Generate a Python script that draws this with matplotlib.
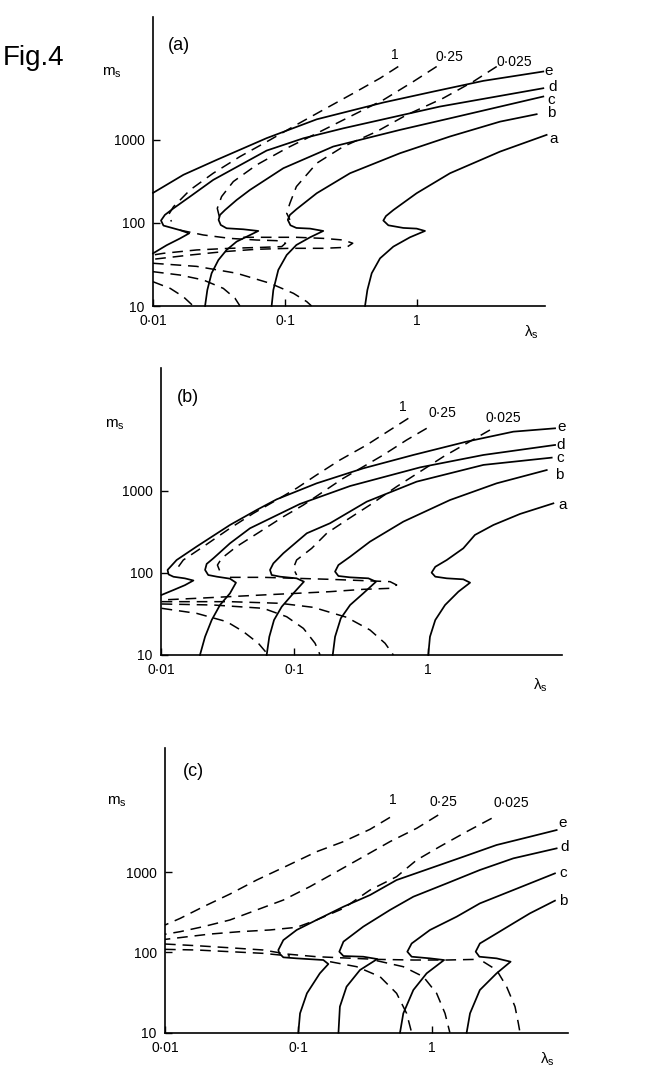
import matplotlib.pyplot as plt

plt.rcParams['font.family'] = ['Liberation Sans', 'DejaVu Sans']
plt.rcParams['mathtext.default'] = 'regular'

W, H = 671, 1083

# ---------------- panel (a) : solid curves a..e ----------------
a_e_lam = [0.010, 0.0170, 0.0303, 0.0726, 0.174, 0.556, 1.33, 3.18, 9.06]
a_e_m = [230, 380, 574, 1050, 1770, 2820, 3820, 5140, 6660]
a_d_lam = [0.010, 0.0127, 0.0160, 0.0188, 0.0160, 0.0120, 0.0115, 0.0123, 0.0143, 0.0191, 0.0286, 0.0726, 0.138, 0.277, 1.49, 9.06]
a_d_m = [43, 54, 65, 75, 82, 93, 107, 125, 150, 208, 330, 744, 1047, 1380, 2520, 4190]
a_c_lam = [0.0248, 0.0258, 0.0278, 0.0313, 0.0361, 0.0430, 0.0513, 0.0628, 0.0483, 0.0361, 0.0326, 0.0314, 0.0322, 0.0351, 0.0430, 0.0543, 0.0971, 0.232, 0.743, 1.78, 9.06]
a_c_m = [10, 15.6, 24.8, 35.8, 47.3, 59.6, 68.4, 80.1, 83.9, 86.3, 94.6, 109, 125, 143, 189, 250, 456, 832, 1320, 1820, 3330]
a_b_lam = [0.0792, 0.0816, 0.0890, 0.103, 0.122, 0.155, 0.195, 0.155, 0.122, 0.110, 0.105, 0.109, 0.122, 0.174, 0.311, 0.743, 1.78, 4.26, 8.07]
a_b_m = [10, 15.6, 27.2, 41.1, 54.3, 67.2, 80.1, 85.5, 87.1, 93.7, 109, 125, 146, 228, 397, 691, 1100, 1660, 2040]
a_a_lam = [0.404, 0.421, 0.454, 0.525, 0.662, 0.885, 1.15, 0.994, 0.788, 0.607, 0.556, 0.582, 0.662, 0.994, 1.78, 4.26, 9.60]
a_a_m = [10, 15.6, 24.8, 37.5, 51.9, 67.2, 80.1, 85.5, 87.1, 93.7, 107, 121, 143, 228, 397, 723, 1150]

# panel (a) : dashed curves labelled 1, 0.25, 0.025
a_k1_lam = [0.722, 0.525, 0.330, 0.195, 0.122, 0.0770, 0.0456, 0.0286, 0.0191, 0.0143, 0.0131, 0.0138]
a_k1_m = [7650, 5530, 3650, 2300, 1520, 1000, 630, 397, 250, 157, 125, 104]
a_k2_lam = [1.41, 0.938, 0.556, 0.311, 0.174, 0.103, 0.0610, 0.0406, 0.0331, 0.0307, 0.0318]
a_k2_m = [7650, 5040, 3030, 1910, 1200, 794, 500, 315, 208, 150, 119]
a_k3_lam = [4.02, 2.67, 1.58, 0.835, 0.495, 0.277, 0.174, 0.122, 0.109, 0.103, 0.109]
a_k3_m = [7650, 5040, 3180, 2000, 1260, 832, 524, 274, 173, 131, 109]
# panel (a) : lower dashed branches
a_l1_lam = [0.0160, 0.0240, 0.0383, 0.0610, 0.0865, 0.101, 0.0944, 0.0685, 0.0383, 0.0214, 0.0120, 0.010]
a_l1_m = [82, 71.7, 65.2, 62.3, 61.2, 57.0, 51.9, 50.9, 49.5, 47.3, 43.1, 41.1]
a_l2_lam = [0.0483, 0.0769, 0.122, 0.195, 0.277, 0.326, 0.293, 0.195, 0.109, 0.0610, 0.0341, 0.0191, 0.010]
a_l2_m = [67.2, 67.2, 67.2, 65.2, 62.3, 57.0, 50.9, 49.5, 49.5, 48.2, 45.1, 41.1, 36.5]
a_l3_lam = [0.010, 0.0160, 0.0240, 0.0341, 0.0418, 0.0456]
a_l3_m = [25.9, 23.6, 20.6, 16.3, 12.4, 10]
a_l4_lam = [0.010, 0.0214, 0.0430, 0.0769, 0.116, 0.146, 0.159]
a_l4_m = [32.7, 30.0, 24.8, 18.8, 14.2, 11.3, 10]
a_l5_lam = [0.010, 0.0135, 0.0170, 0.0202]
a_l5_m = [19.6, 16.3, 12.9, 10]

# ---------------- panel (b) ----------------
b_e_lam = [0.0101, 0.0124, 0.0151, 0.0175, 0.0151, 0.0124, 0.0114, 0.0112, 0.0131, 0.0185, 0.0329, 0.0522, 0.0737, 0.147, 0.329, 0.781, 1.96, 4.39, 9.02]
b_e_m = [54, 62, 71, 81, 86, 90, 96, 109, 144, 210, 385, 587, 791, 1240, 1890, 2750, 4000, 5290, 5810]
b_d_lam = [0.0196, 0.0214, 0.0240, 0.0277, 0.0329, 0.0365, 0.0329, 0.0262, 0.0226, 0.0214, 0.0220, 0.0247, 0.0329, 0.0465, 0.110, 0.262, 0.876, 2.62, 9.02]
b_d_m = [10, 16.7, 26.7, 40.7, 56.5, 76.2, 85.3, 90.2, 94.5, 109, 129, 151, 230, 351, 694, 1150, 1940, 2750, 3640]
b_c_lam = [0.0620, 0.0649, 0.0704, 0.0804, 0.0983, 0.118, 0.104, 0.0781, 0.0676, 0.0657, 0.0696, 0.0827, 0.124, 0.185, 0.349, 0.827, 2.62, 8.51]
b_c_m = [10, 16.7, 26.7, 38.8, 56.5, 78.4, 86.1, 90.2, 94.5, 109, 131, 174, 305, 404, 741, 1300, 2080, 2550]
b_b_lam = [0.194, 0.202, 0.223, 0.262, 0.329, 0.410, 0.359, 0.262, 0.214, 0.202, 0.214, 0.262, 0.369, 0.657, 1.47, 3.29, 7.81]
b_b_m = [10, 16.7, 28.0, 40.7, 56.5, 78.4, 86.1, 88.5, 91.9, 104, 125, 158, 241, 423, 776, 1240, 1800]
b_a_lam = [1.01, 1.04, 1.14, 1.35, 1.70, 2.08, 1.85, 1.39, 1.14, 1.07, 1.14, 1.39, 1.85, 2.26, 3.11, 4.93, 8.76]
b_a_m = [10, 16.7, 26.7, 40.7, 59.2, 76.2, 83.7, 86.1, 90.2, 101, 119, 144, 200, 291, 385, 525, 707]

b_k1_lam = [0.716, 0.522, 0.349, 0.220, 0.147, 0.104, 0.0737, 0.0493, 0.0329, 0.0208, 0.0147, 0.0135]
b_k1_m = [7690, 5540, 3640, 2390, 1570, 1080, 777, 534, 351, 210, 144, 119]
b_k2_lam = [0.983, 0.696, 0.465, 0.329, 0.233, 0.165, 0.117, 0.0827, 0.0553, 0.0369, 0.0285, 0.0265, 0.0277]
b_k2_m = [5810, 4190, 2750, 1980, 1430, 982, 675, 486, 319, 210, 151, 125, 104]
b_k3_lam = [2.93, 1.96, 1.31, 0.876, 0.585, 0.369, 0.247, 0.175, 0.135, 0.104, 0.0983, 0.104]
b_k3_m = [5540, 3810, 2620, 1720, 1130, 675, 443, 305, 200, 144, 114, 94.5]
b_l1_lam = [0.0329, 0.0585, 0.104, 0.185, 0.329, 0.522, 0.585, 0.522, 0.329, 0.185, 0.104, 0.0585, 0.0329, 0.0185, 0.0101]
b_l1_m = [88.5, 88.5, 86.1, 83.7, 80.7, 78.4, 71.4, 65.0, 63.2, 59.2, 56.5, 54.0, 51.5, 49.1, 46.9]
b_l2_lam = [0.0101, 0.0185, 0.0311, 0.0414, 0.0537, 0.0638]
b_l2_m = [37.1, 32.2, 25.5, 19.3, 13.9, 10]
b_l3_lam = [0.0101, 0.0247, 0.0585, 0.0876, 0.117, 0.143, 0.156]
b_l3_m = [41.9, 40.7, 37.1, 29.3, 21.1, 13.9, 10]
b_l4_lam = [0.0101, 0.0329, 0.0781, 0.139, 0.247, 0.369, 0.479, 0.553]
b_l4_m = [44.7, 44.7, 42.7, 38.1, 28.8, 20.2, 13.9, 10]

# ---------------- panel (c) ----------------
c_e_lam = [0.100, 0.103, 0.116, 0.145, 0.168, 0.154, 0.0972, 0.0772, 0.0720, 0.0708, 0.0772, 0.0972, 0.137, 0.218, 0.345, 0.546, 0.972, 1.73, 3.07, 5.46, 8.66]
c_e_m = [10, 17.4, 30.9, 54.8, 71.6, 80.3, 84.2, 86.7, 97.2, 107, 142, 190, 253, 370, 517, 795, 1110, 1550, 2170, 2750, 3330]
c_d_lam = [0.200, 0.205, 0.230, 0.290, 0.391, 0.307, 0.218, 0.203, 0.218, 0.307, 0.487, 0.729, 1.30, 2.30, 4.10, 8.66]
c_d_m = [10, 21.1, 37.4, 60.3, 82.6, 88.3, 90.0, 102, 136, 209, 337, 493, 723, 1060, 1480, 1970]
c_c_lam = [0.579, 0.613, 0.729, 0.917, 1.24, 0.972, 0.708, 0.657, 0.708, 0.972, 1.54, 2.30, 4.10, 8.41]
c_c_m = [10, 17.4, 34.0, 54.8, 80.3, 84.2, 88.3, 102, 129, 190, 278, 407, 597, 962]
c_b_lam = [1.83, 1.94, 2.30, 3.07, 3.91, 3.07, 2.28, 2.14, 2.30, 3.07, 4.10, 5.46, 8.41]
c_b_m = [10, 17.4, 34.0, 54.8, 76.5, 84.2, 88.3, 102, 129, 172, 230, 306, 440]

c_k1_lam = [0.487, 0.345, 0.218, 0.137, 0.0818, 0.0487, 0.0307, 0.0194, 0.0130, 0.010]
c_k1_m = [4790, 3400, 2390, 1790, 1190, 795, 532, 370, 265, 219]
c_k2_lam = [1.12, 0.772, 0.487, 0.307, 0.194, 0.122, 0.0772, 0.0487, 0.0307, 0.0194, 0.0130, 0.010]
c_k2_m = [5120, 3500, 2390, 1550, 1010, 657, 448, 337, 253, 209, 181, 168]
c_k3_lam = [2.82, 1.83, 1.15, 0.772, 0.546, 0.345, 0.218, 0.137, 0.0972, 0.0613, 0.0365, 0.0218, 0.010]
c_k3_m = [4660, 3180, 2070, 1410, 875, 597, 353, 253, 205, 190, 181, 169, 145]
c_l1_lam = [0.010, 0.0173, 0.0307, 0.0546, 0.0818, 0.137, 0.230, 0.387, 0.729, 1.30, 2.17]
c_l1_m = [127, 121, 114, 107, 95.3, 88.3, 85.0, 81.8, 80.3, 80.3, 81.8]
c_l2_lam = [0.010, 0.0173, 0.0307, 0.0546, 0.0866]
c_l2_m = [109, 107, 102, 97.2, 90.0]
c_l3_lam = [0.173, 0.274, 0.410, 0.546, 0.649, 0.708]
c_l3_m = [76.5, 66.3, 49.8, 30.9, 17.4, 10]
c_l4_lam = [0.387, 0.613, 0.866, 1.09, 1.26, 1.37]
c_l4_m = [78.8, 66.3, 49.8, 30.9, 17.4, 10]
c_l5_lam = [2.44, 3.07, 3.65, 4.22, 4.47, 4.60]
c_l5_m = [76.5, 60.3, 37.4, 21.1, 13.1, 10]

x_ticks = [0.01, 0.1, 1]
x_ticklabels = ['0·01', '0·1', '1']
y_ticks = [10, 100, 1000]
y_ticklabels = ['10', '100', '1000']
k_names = ['1', '0·25', '0·025']


def box(l, r, b, t):
    return [l / W, 1 - b / H, (r - l) / W, (b - t) / H]


def px(x, y):
    return x / W, 1 - y / H


fig = plt.figure(figsize=(W / 100, H / 100), dpi=100)

panels = [
    {'box': box(153, 545, 306, 17), 'xmax': 10 ** 0.97, 'ymax': 10 ** 4.48, 'tag': '(a)',
     'tagpos': (179, 45), 'mpos': (112, 73), 'lpos': (531, 332),
     'solid': [('e', a_e_lam, a_e_m, (5, 1)), ('d', a_d_lam, a_d_m, (9, 1)),
               ('c', a_c_lam, a_c_m, (8, -3)), ('b', a_b_lam, a_b_m, (15, 1)),
               ('a', a_a_lam, a_a_m, (7, -4))],
     'keyed': [(a_k1_lam, a_k1_m, (-3, 12)), (a_k2_lam, a_k2_m, (13, 10)), (a_k3_lam, a_k3_m, (18, 5))],
     'lower': [(a_l1_lam, a_l1_m), (a_l2_lam, a_l2_m), (a_l3_lam, a_l3_m),
               (a_l4_lam, a_l4_m), (a_l5_lam, a_l5_m)]},
    {'box': box(161, 561.7, 655, 368.3), 'xmax': 10 ** 1.005, 'ymax': 10 ** 4.496, 'tag': '(b)',
     'tagpos': (188, 397), 'mpos': (115, 425), 'lpos': (540, 685),
     'solid': [('e', b_e_lam, b_e_m, (7, 1)), ('d', b_d_lam, b_d_m, (6, 0)),
               ('c', b_c_lam, b_c_m, (8, 0)), ('b', b_b_lam, b_b_m, (13, -5)),
               ('a', b_a_lam, b_a_m, (9, -2))],
     'keyed': [(b_k1_lam, b_k1_m, (-6, 11)), (b_k2_lam, b_k2_m, (16, 15)), (b_k3_lam, b_k3_m, (13, 12))],
     'lower': [(b_l1_lam, b_l1_m), (b_l2_lam, b_l2_m), (b_l3_lam, b_l3_m), (b_l4_lam, b_l4_m)]},
    {'box': box(165, 568.3, 1032.7, 748.3), 'xmax': 10 ** 1.025, 'ymax': 10 ** 4.54, 'tag': '(c)',
     'tagpos': (193, 772), 'mpos': (117, 802), 'lpos': (547, 1059),
     'solid': [('e', c_e_lam, c_e_m, (6, 7)), ('d', c_d_lam, c_d_m, (8, 1)),
               ('c', c_c_lam, c_c_m, (8, 0)), ('b', c_b_lam, c_b_m, (8, 0))],
     'keyed': [(c_k1_lam, c_k1_m, (3, 17)), (c_k2_lam, c_k2_m, (5, 13)), (c_k3_lam, c_k3_m, (20, 15))],
     'lower': [(c_l1_lam, c_l1_m), (c_l2_lam, c_l2_m), (c_l3_lam, c_l3_m),
               (c_l4_lam, c_l4_m), (c_l5_lam, c_l5_m)]},
]

dash = (0, (7, 4.5))
for p in panels:
    ax = fig.add_axes(p['box'])
    ax.set_xscale('log')
    ax.set_yscale('log')
    ax.set_xlim(0.01, p['xmax'])
    ax.set_ylim(10, p['ymax'])
    for s in ['top', 'right']:
        ax.spines[s].set_visible(False)
    for s in ['left', 'bottom']:
        ax.spines[s].set_linewidth(1.2)
    ax.set_xticks(x_ticks)
    ax.set_xticklabels(x_ticklabels)
    ax.set_yticks(y_ticks)
    ax.set_yticklabels(y_ticklabels)
    ax.minorticks_off()
    ax.tick_params(direction='in', length=5, width=1, labelsize=10, pad=6)

    for name, lam, m, off in p['solid']:
        ax.plot(lam, m, color='k', lw=1.25, clip_on=False, solid_joinstyle='round')
        ax.annotate(name, (lam[-1], m[-1]), xytext=off, textcoords='offset pixels',
                    ha='center', va='center', fontsize=11, annotation_clip=False)
    for (lam, m, off), k in zip(p['keyed'], k_names):
        ax.plot(lam, m, color='k', lw=1.1, ls=dash, clip_on=False)
        ax.annotate(k, (lam[0], m[0]), xytext=off, textcoords='offset pixels',
                    ha='center', va='center', fontsize=10, annotation_clip=False)
    for lam, m in p['lower']:
        ax.plot(lam, m, color='k', lw=1.1, ls=dash, clip_on=False)

    fig.text(*px(*p['tagpos']), p['tag'], fontsize=13, ha='center', va='center')
    fig.text(*px(*p['mpos']), r'$m_s$', fontsize=11, ha='center', va='center')
    fig.text(*px(*p['lpos']), r'$\lambda_s$', fontsize=11, ha='center', va='center')

fig.text(*px(3, 65), 'Fig.4', fontsize=20, ha='left', va='baseline')

fig.savefig('out.png', dpi=100)
